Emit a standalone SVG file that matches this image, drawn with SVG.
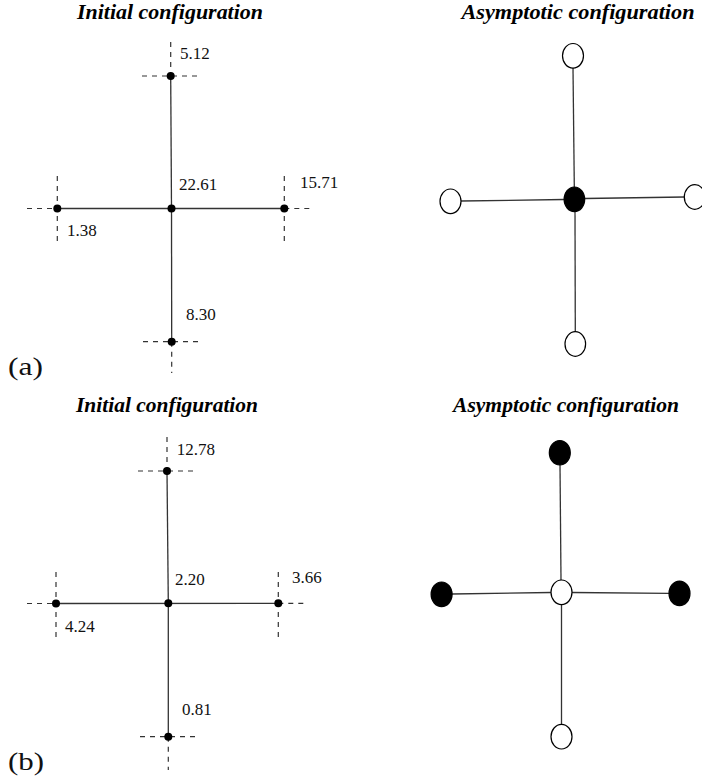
<svg xmlns="http://www.w3.org/2000/svg" width="702" height="784" viewBox="0 0 702 784">
<style>
.title{font-family:"Liberation Serif","Times New Roman",serif;font-weight:bold;font-style:italic;font-size:21px;fill:#000;text-anchor:middle}
.num{font-family:"Liberation Serif","Times New Roman",serif;font-size:17px;fill:#111}
.lab{font-family:"Liberation Serif","DejaVu Serif",serif;font-size:26px;fill:#111}
.edge{stroke:#333;stroke-width:1.3;fill:none}
.dash{stroke:#333;stroke-width:1.2;stroke-dasharray:5,5;fill:none}
.dot{fill:#000}
.open{fill:#fff;stroke:#000;stroke-width:1.2}
.full{fill:#000;stroke:#000;stroke-width:1.2}
</style>
<rect width="702" height="784" fill="#fff"/>
<text class="title" x="170" y="18.8" textLength="186" lengthAdjust="spacingAndGlyphs">Initial configuration</text>
<text class="title" x="578" y="18.8" textLength="233" lengthAdjust="spacingAndGlyphs">Asymptotic configuration</text>
<text class="title" x="167" y="412" textLength="182" lengthAdjust="spacingAndGlyphs">Initial configuration</text>
<text class="title" x="566" y="412" textLength="226" lengthAdjust="spacingAndGlyphs">Asymptotic configuration</text>
<text class="lab" x="8" y="375" textLength="35" lengthAdjust="spacingAndGlyphs">(a)</text>
<text class="lab" x="8" y="770" textLength="36" lengthAdjust="spacingAndGlyphs">(b)</text>
<g id="connectors">
<line class="edge" x1="170.7" y1="76" x2="171.5" y2="208.5"/>
<line class="edge" x1="57.3" y1="208.5" x2="284.3" y2="208.5"/>
<line class="edge" x1="171.5" y1="208.5" x2="171.7" y2="341.7"/>
<line class="edge" x1="573" y1="68" x2="574.3" y2="187"/>
<line class="edge" x1="461" y1="201" x2="564" y2="199.5"/>
<line class="edge" x1="585" y1="198.5" x2="684.3" y2="197"/>
<line class="edge" x1="575" y1="212" x2="575.3" y2="332"/>
<line class="edge" x1="167" y1="471" x2="168.3" y2="603.3"/>
<line class="edge" x1="56" y1="603.5" x2="278.3" y2="603.3"/>
<line class="edge" x1="168.3" y1="603.3" x2="168.3" y2="736.7"/>
<line class="edge" x1="560" y1="465" x2="561" y2="580"/>
<line class="edge" x1="452" y1="594" x2="551" y2="592.5"/>
<line class="edge" x1="572" y1="592.5" x2="669" y2="593.3"/>
<line class="edge" x1="561.5" y1="605" x2="561.5" y2="724.3"/>
</g>
<g id="a-init-top">
<line class="dash" x1="142" y1="76" x2="200" y2="76"/>
<line class="dash" x1="170.7" y1="42" x2="170.7" y2="76"/>
<circle class="dot" cx="170.7" cy="76" r="4"/>
<text class="num" x="180" y="59">5.12</text>
</g>
<g id="a-init-center">
<circle class="dot" cx="171.5" cy="208.5" r="4"/>
<text class="num" x="179" y="190">22.61</text>
</g>
<g id="a-init-left">
<line class="dash" x1="27" y1="208.5" x2="57.3" y2="208.5"/>
<line class="dash" x1="57.3" y1="176" x2="57.3" y2="243"/>
<circle class="dot" cx="57.3" cy="208.5" r="4"/>
<text class="num" x="67" y="236">1.38</text>
</g>
<g id="a-init-right">
<line class="dash" x1="284.3" y1="208.5" x2="313" y2="208.5"/>
<line class="dash" x1="284.3" y1="176" x2="284.3" y2="243"/>
<circle class="dot" cx="284.3" cy="208.5" r="4"/>
<text class="num" x="300" y="188">15.71</text>
</g>
<g id="a-init-bottom">
<line class="dash" x1="143" y1="341.7" x2="201" y2="341.7"/>
<line class="dash" x1="171.7" y1="341.7" x2="171.7" y2="373"/>
<circle class="dot" cx="171.7" cy="341.7" r="4"/>
<text class="num" x="186" y="320">8.30</text>
</g>
<g id="a-asym-top"><ellipse class="open" cx="573" cy="55.8" rx="10.5" ry="12.3"/></g>
<g id="a-asym-center"><ellipse class="full" cx="574.4" cy="199.3" rx="10.3" ry="12.3"/></g>
<g id="a-asym-left"><ellipse class="open" cx="450.5" cy="201.3" rx="10.5" ry="12.3"/></g>
<g id="a-asym-right"><ellipse class="open" cx="694.8" cy="197" rx="10.5" ry="12.3"/></g>
<g id="a-asym-bottom"><ellipse class="open" cx="575.3" cy="344" rx="10.3" ry="12.3"/></g>
<g id="b-init-top">
<line class="dash" x1="138" y1="471" x2="196" y2="471"/>
<line class="dash" x1="167" y1="437" x2="167" y2="471"/>
<circle class="dot" cx="167" cy="471" r="4"/>
<text class="num" x="176.7" y="455">12.78</text>
</g>
<g id="b-init-center">
<circle class="dot" cx="168.3" cy="603.3" r="4"/>
<text class="num" x="175" y="585">2.20</text>
</g>
<g id="b-init-left">
<line class="dash" x1="27" y1="603.5" x2="56" y2="603.5"/>
<line class="dash" x1="56" y1="572" x2="56" y2="640"/>
<circle class="dot" cx="56" cy="603.5" r="4"/>
<text class="num" x="65" y="631.5">4.24</text>
</g>
<g id="b-init-right">
<line class="dash" x1="278.3" y1="603.3" x2="308" y2="603.3"/>
<line class="dash" x1="278.3" y1="572" x2="278.3" y2="640"/>
<circle class="dot" cx="278.3" cy="603.3" r="4"/>
<text class="num" x="292" y="583">3.66</text>
</g>
<g id="b-init-bottom">
<line class="dash" x1="140" y1="736.7" x2="197" y2="736.7"/>
<line class="dash" x1="168.3" y1="736.7" x2="168.3" y2="770"/>
<circle class="dot" cx="168.3" cy="736.7" r="4"/>
<text class="num" x="182" y="715">0.81</text>
</g>
<g id="b-asym-top"><ellipse class="full" cx="559.8" cy="452.8" rx="10.5" ry="12.2"/></g>
<g id="b-asym-center"><ellipse class="open" cx="561.5" cy="592.3" rx="10.5" ry="12.3"/></g>
<g id="b-asym-left"><ellipse class="full" cx="441.6" cy="594.3" rx="10.5" ry="12.3"/></g>
<g id="b-asym-right"><ellipse class="full" cx="679.5" cy="593.4" rx="10.5" ry="12.3"/></g>
<g id="b-asym-bottom"><ellipse class="open" cx="561.5" cy="736.7" rx="10.5" ry="12.3"/></g>
</svg>
